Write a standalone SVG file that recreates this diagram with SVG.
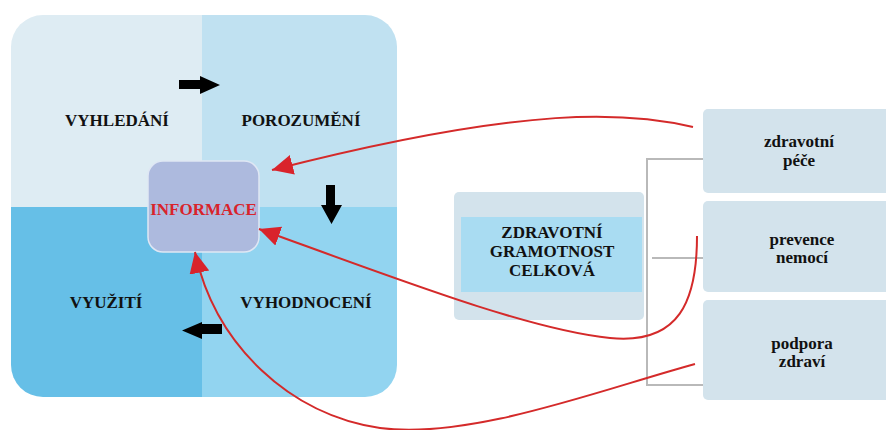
<svg xmlns="http://www.w3.org/2000/svg" width="886" height="430" viewBox="0 0 886 430">
  <defs>
    <clipPath id="squareClip">
      <rect x="11" y="15" width="386" height="382" rx="32" ry="32"/>
    </clipPath>
    <marker id="redHead" markerUnits="userSpaceOnUse" markerWidth="24" markerHeight="22" refX="21" refY="10" orient="auto">
      <path d="M0,0 L21,10 L0,20 Z" fill="#d9232b"/>
    </marker>
    <style>
      .lbl { font-family: "Liberation Serif", "Times New Roman", serif; font-weight: bold; font-size: 17px; fill: #111; text-anchor: middle; }
      .branch { fill: #d3e3ec; }
      .tree { stroke: #b9b9b9; stroke-width: 2; fill: none; }
      .red { stroke: #d42a2a; stroke-width: 2; fill: none; marker-end: url(#redHead); }
      .blk { fill: #000; }
    </style>
  </defs>

  <rect width="886" height="430" fill="#ffffff"/>

  <!-- four-stage square -->
  <g id="cycle" clip-path="url(#squareClip)">
    <rect id="q-vyhledani" x="11" y="15" width="191" height="192" fill="#deecf3"/>
    <rect id="q-porozumeni" x="202" y="15" width="195" height="192" fill="#c0e1f1"/>
    <rect id="q-vyuziti" x="11" y="207" width="191" height="190" fill="#66bfe7"/>
    <rect id="q-vyhodnoceni" x="202" y="207" width="195" height="190" fill="#92d4f0"/>
  </g>
  <g id="label-vyhledani"><text class="lbl" x="117" y="126">VYHLEDÁNÍ</text></g>
  <g id="label-porozumeni"><text class="lbl" x="301" y="126">POROZUMĚNÍ</text></g>
  <g id="label-vyuziti"><text class="lbl" x="106" y="308">VYUŽITÍ</text></g>
  <g id="label-vyhodnoceni"><text class="lbl" x="306" y="308">VYHODNOCENÍ</text></g>

  <!-- black process arrows -->
  <g id="flow-arrows">
    <path class="blk" d="M179,80 H200 V76 L220,85 L200,94 V89 H179 Z"/>
    <path class="blk" d="M326,185 H335 V205 H342 L331.5,224 L321,205 H326 Z"/>
    <path class="blk" d="M222,324 H202 V322 L182,330.5 L202,339 V334 H222 Z"/>
  </g>

  <!-- centre node -->
  <g id="informace">
    <rect x="148" y="161" width="111" height="91" rx="15" ry="15" fill="#adbade" stroke="#dfe7f4" stroke-width="1.5"/>
    <text class="lbl" x="203.5" y="215" style="fill:#d9232b">INFORMACE</text>
  </g>

  <!-- overall literacy node -->
  <g id="gramotnost">
    <rect x="454" y="192" width="190" height="128" rx="5" ry="5" fill="#d3e3ec"/>
    <rect x="461" y="217" width="181" height="75" fill="#a9dcf2"/>
    <text class="lbl" x="552" y="238">ZDRAVOTNÍ</text>
    <text class="lbl" x="552" y="257">GRAMOTNOST</text>
    <text class="lbl" x="552" y="276">CELKOVÁ</text>
  </g>

  <!-- branch nodes -->
  <g id="pece">
    <rect class="branch" x="703" y="109" width="190" height="84" rx="5" ry="5"/>
    <text class="lbl" x="799" y="147">zdravotní</text>
    <text class="lbl" x="799" y="166">péče</text>
  </g>
  <g id="prevence">
    <rect class="branch" x="703" y="201" width="190" height="91" rx="5" ry="5"/>
    <text class="lbl" x="802" y="245">prevence</text>
    <text class="lbl" x="802" y="263">nemocí</text>
  </g>
  <g id="podpora">
    <rect class="branch" x="703" y="300" width="190" height="100" rx="5" ry="5"/>
    <text class="lbl" x="802" y="349">podpora</text>
    <text class="lbl" x="802" y="367">zdraví</text>
  </g>

  <!-- connectors -->
  <g id="connectors">
    <path class="tree" d="M703,159 H647 V385 H703"/>
    <path class="tree" d="M652,258 H703"/>
    <path class="red" d="M693,127 C630,112 530,104 272,170"/>
    <path class="red" d="M697,236 C697,300 680,345 610,338 C530,330 400,280 259,229"/>
    <path class="red" d="M695,364 C600,390 470,440 380,428 C290,415 215,345 195,252"/>
  </g>
</svg>
